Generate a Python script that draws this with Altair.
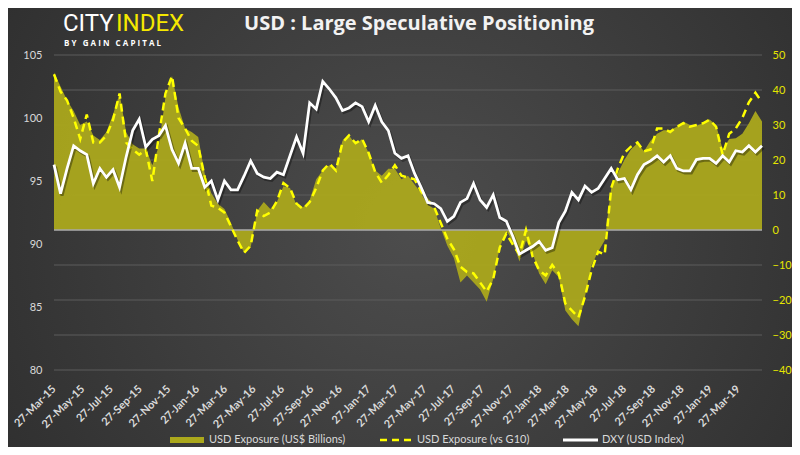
import altair as alt
import pandas as pd

# ---------------- data (biweekly samples) ----------------
start_date = "2015-03-27"

dxy = [96.3, 94.0, 96.0, 97.8, 97.4, 97.1, 94.8, 96.0, 95.3, 95.9,
       94.5, 96.9, 99.0, 99.9, 97.7, 98.3, 98.6, 99.4, 97.5, 96.4,
       98.0, 96.0, 96.0, 94.5, 95.0, 93.5, 95.0, 94.3, 94.3, 95.4,
       96.6, 95.6, 95.3, 95.2, 95.7, 95.5, 97.0, 98.5, 97.2, 101.2,
       100.7, 102.9, 102.3, 101.6, 100.6, 100.8, 101.2, 100.9, 99.7, 101.0,
       99.7, 99.0, 97.2, 96.8, 97.0, 95.6, 94.5, 93.3, 93.2, 92.8,
       91.8, 92.2, 93.3, 93.6, 94.8, 93.5, 92.9, 93.9, 92.1, 91.8,
       90.6, 89.2, 89.5, 89.8, 90.2, 89.5, 89.7, 91.7, 92.6, 94.1,
       93.5, 94.6, 94.1, 94.4, 95.2, 96.0, 95.1, 95.2, 94.3, 95.5,
       96.3, 96.6, 97.0, 96.5, 97.0, 96.0, 95.8, 95.8, 96.7, 96.8,
       96.8, 96.4, 97.0, 96.5, 97.4, 97.3, 97.8, 97.3, 97.8]

usd_g10 = [44.5, 39.5, 37, 32, 26, 33, 25, 25, 27, 31.5,
           39, 25, 23, 21.5, 23, 14, 27, 39, 44, 32,
           29, 25.5, 24, 15, 7, 6.3, 5, 1, -3, -6.5,
           -4.5, 5.5, 4, 5, 8.2, 13.4, 12, 7.5, 6, 8,
           12, 17, 19, 17, 25, 27, 24.8, 26, 22, 16.6,
           13.5, 15.7, 18.5, 15.5, 15, 14.5, 11, 8.5, 6.5, 2,
           -2.5, -5.5, -10.5, -12, -12.4, -15, -17.6, -14, -5, -1,
           -4.2, -7, 0, -7.5, -11.5, -13, -10, -12.4, -21, -23,
           -25, -19, -11.5, -6.2, -7, 12, 17.5, 22, 23.8, 25,
           22.5, 23, 29, 29, 28, 29.5, 30.5, 29.5, 30, 30.5,
           31.5, 29.5, 21.5, 27.5, 29, 32, 36.5, 39.2, 36.5]

usd_bn = [45, 41, 37, 34, 30, 31, 27, 25.7, 28, 33,
          39, 28, 24.5, 23.3, 23.3, 18.5, 24, 38, 44, 35,
          29, 28, 26.6, 16, 10.5, 7.5, 6, 2, -2.8, -6.5,
          -5, 5.5, 8, 6, 8, 12.5, 12, 7, 6.5, 8.5,
          14.5, 17, 18.5, 17.5, 25.5, 27, 24.5, 26, 22, 17,
          15.5, 17.5, 17.5, 14.5, 15.5, 13, 10.5, 7.3, 6, 0.5,
          -4.5, -8, -15, -13, -15, -17, -20.5, -14, -5, 0,
          -3.5, -9, -3, -6.5, -12.4, -15.5, -11.5, -13.5, -23, -25.5,
          -27.5, -19, -10, -6.2, -3, 12, 16.2, 20, 23, 24.8,
          22.5, 25.5, 27.5, 28.5, 28.5, 29.5, 31, 30, 29.8, 30.5,
          31.6, 30, 23, 26, 26.2, 27.5, 30.5, 34, 31]

right_ticks = [-40, -30, -20, -10, 0, 10, 20, 30, 40, 50]
left_ticks = [80, 85, 90, 95, 100, 105]
x_tick_dates = pd.date_range(start_date, periods=25, freq=pd.DateOffset(months=2))

title_text = "USD : Large Speculative Positioning"
legend_labels = ["USD Exposure (US$ Billions)", "USD Exposure (vs G10)", "DXY (USD Index)"]
NB = "\u00a0"
tagline = (NB * 3).join(NB.join(w) for w in ["BY", "GAIN", "CAPITAL"])

# ---------------- tables ----------------
dates = pd.date_range(start_date, periods=len(dxy), freq="14D")
df = pd.DataFrame({"date": dates, "dxy": dxy, "bn": usd_bn, "g10": usd_g10})
grid_df = pd.DataFrame({"g": right_ticks})
zero_df = pd.DataFrame({"g": [0]})
one = pd.DataFrame({"k": [0]})

W, H = 708, 315
AREA_COL = "#aba81c"
YELLOW = "#ffff00"
LABEL_COL = "#d9d9d9"

def dt(d):
    return alt.DateTime(year=d.year, month=d.month, date=d.day)

x_enc = alt.X(
    "date:T",
    scale=alt.Scale(domain=[dt(dates[0]), dt(dates[-1])]),
    axis=alt.Axis(
        values=[dt(d) for d in x_tick_dates], format="%d-%b-%y", labelAngle=-45,
        labelAlign="right", labelBaseline="middle", labelPadding=17, labelFlush=False,
        labelOverlap=False, labelColor=LABEL_COL, labelFont="Lato", labelFontSize=11,
        labelFontWeight="bold", title=None, grid=False, domain=False, ticks=False, zindex=1,
    ),
)

right_scale = alt.Scale(domain=[-40, 50], nice=False, zero=False)
right_axis = alt.Axis(
    orient="right", values=right_ticks, title=None, grid=False, domain=False, ticks=False,
    labelColor="#e6e600", labelFont="Lato", labelFontSize=11, labelPadding=10, zindex=1,
)

# background gradient
bg = alt.Chart(one).mark_rect(
    fill=alt.Gradient(
        gradient="radial",
        stops=[alt.GradientStop(color="#4d4d4d", offset=0),
               alt.GradientStop(color="#2a2a2a", offset=1)],
        x1=0.52, y1=0.5, r1=0, x2=0.52, y2=0.5, r2=0.72,
    )
).encode(x=alt.value(-46), x2=alt.value(W + 30), y=alt.value(-47), y2=alt.value(H + 77))

grid = alt.Chart(grid_df).mark_rule(color="#5c5c5c", strokeWidth=1).encode(
    y=alt.Y("g:Q", scale=right_scale, axis=right_axis), x=alt.value(0), x2=alt.value(W)
)

area = alt.Chart(df).mark_area(color=AREA_COL, opacity=0.95).encode(
    x=x_enc, y=alt.Y("bn:Q", scale=right_scale, axis=right_axis), y2=alt.datum(0)
)

zero = alt.Chart(zero_df).mark_rule(color="#a8a8a8", strokeWidth=1.5).encode(
    y=alt.Y("g:Q", scale=right_scale, axis=right_axis), x=alt.value(0), x2=alt.value(W)
)

dashed = alt.Chart(df).mark_line(color=YELLOW, strokeWidth=2.5, strokeDash=[8, 5]).encode(
    x=x_enc, y=alt.Y("g10:Q", scale=right_scale, axis=right_axis)
)

right_group = alt.layer(grid, area, zero, dashed)

left_scale = alt.Scale(domain=[80, 105], nice=False, zero=False)
left_axis = alt.Axis(
    orient="left", values=left_ticks, title=None, grid=False, domain=False, ticks=False,
    labelColor=LABEL_COL, labelFont="Lato", labelFontSize=11, labelPadding=12, zindex=1,
)
dxy_shadow = alt.Chart(df).mark_line(color="black", opacity=0.35, strokeWidth=3,
                                     xOffset=1.5, yOffset=2).encode(
    x=x_enc, y=alt.Y("dxy:Q", scale=left_scale, axis=left_axis)
)
dxy_line = alt.Chart(df).mark_line(color="white", strokeWidth=2.75).encode(
    x=x_enc, y=alt.Y("dxy:Q", scale=left_scale, axis=left_axis)
)
left_group = alt.layer(dxy_shadow, dxy_line)

def txt(s, x, y, **kw):
    return alt.Chart(one).mark_text(text=s, **kw).encode(x=alt.value(x), y=alt.value(y))

title = txt(title_text, 365, -25, font="Open Sans", fontSize=20, fontWeight="bold",
            color="#f2f2f2", align="center", baseline="alphabetic")
logo1 = txt("CITY", 9, -24, font="Roboto", fontSize=24, color="white", align="left",
            baseline="alphabetic")
logo2 = txt("INDEX", 62, -24, font="Roboto", fontSize=24, color="#f5e800", align="left",
            baseline="alphabetic")
logo3 = txt(tagline, 10, -9, font="Open Sans", fontSize=8,
            fontWeight="bold", color="white", align="left", baseline="alphabetic")

leg_rect = alt.Chart(one).mark_rect(color=AREA_COL).encode(
    x=alt.value(116), x2=alt.value(150), y=alt.value(382), y2=alt.value(388))
leg_dash = alt.Chart(one).mark_rule(color=YELLOW, strokeWidth=2.5, strokeDash=[7, 5]).encode(
    x=alt.value(326), x2=alt.value(358), y=alt.value(385))
leg_line = alt.Chart(one).mark_rule(color="white", strokeWidth=3).encode(
    x=alt.value(509), x2=alt.value(544), y=alt.value(385))
leg_kw = dict(font="Lato", fontSize=11, color=LABEL_COL, align="left", baseline="middle")
leg_t1 = txt(legend_labels[0], 155, 385, **leg_kw)
leg_t2 = txt(legend_labels[1], 363, 385, **leg_kw)
leg_t3 = txt(legend_labels[2], 548, 385, **leg_kw)

chart = alt.layer(
    bg, right_group, left_group,
    title, logo1, logo2, logo3,
    leg_rect, leg_dash, leg_line, leg_t1, leg_t2, leg_t3,
).resolve_scale(y="independent").properties(
    width=W, height=H,
    autosize=alt.AutoSizeParams(type="none"),
    padding={"left": 46, "top": 47, "right": 30, "bottom": 77},
).configure(background="#383838").configure_view(stroke=None)

chart.save("out.html", embed_options={"renderer": "svg", "actions": False})
